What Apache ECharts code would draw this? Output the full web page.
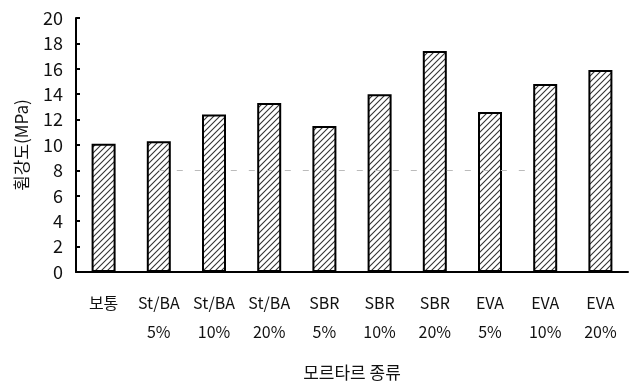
<!DOCTYPE html>
<html><head><meta charset="utf-8">
<script src="https://cdn.jsdelivr.net/npm/echarts@6/dist/echarts.min.js"></script>
<style>html,body{margin:0;padding:0;background:#fff}#c{width:637px;height:387px}</style>
</head><body><div id="c"></div>
<script>
const categories = ['보통\n ', 'St/BA\n5%', 'St/BA\n10%', 'St/BA\n20%', 'SBR\n5%', 'SBR\n10%', 'SBR\n20%', 'EVA\n5%', 'EVA\n10%', 'EVA\n20%'];
const strength = [10.1, 10.3, 12.4, 13.3, 11.5, 14.0, 17.4, 12.6, 14.8, 15.9];
const yTicks = {min: 0, max: 20, interval: 2};

const pc = document.createElement('canvas');
pc.width = 6; pc.height = 6;
const g = pc.getContext('2d');
g.fillStyle = '#fff'; g.fillRect(0, 0, 6, 6);
g.strokeStyle = '#333'; g.lineWidth = 1.1;
g.beginPath();
g.moveTo(-1, 7); g.lineTo(7, -1);
g.moveTo(-4, 4); g.lineTo(4, -4);
g.moveTo(2, 10); g.lineTo(10, 2);
g.stroke();

const font = '"Noto Sans CJK KR", "Noto Sans", sans-serif';
const chart = echarts.init(document.getElementById('c'));
chart.setOption({
  animation: false,
  grid: {left: 76, right: 9, top: 18, bottom: 115},
  xAxis: {
    type: 'category', data: categories,
    name: '모르타르 종류', nameLocation: 'middle', nameGap: 92,
    nameTextStyle: {fontFamily: font, fontSize: 17, color: '#111'},
    axisLine: {lineStyle: {color: '#000', width: 2}},
    axisTick: {inside: true, length: 6, lineStyle: {color: '#000', width: 2}},
    axisLabel: {fontFamily: font, fontSize: 16, color: '#111', margin: 16, lineHeight: 29}
  },
  yAxis: {
    type: 'value', min: yTicks.min, max: yTicks.max, interval: yTicks.interval,
    name: '휨강도(MPa)', nameLocation: 'middle', nameGap: 46, nameRotate: 90,
    nameTextStyle: {fontFamily: font, fontSize: 17, color: '#111'},
    axisLine: {show: true, lineStyle: {color: '#000', width: 2}},
    axisTick: {show: true, inside: true, length: 4, lineStyle: {color: '#000', width: 2}},
    axisLabel: {fontFamily: font, fontSize: 18, color: '#111', margin: 13},
    splitLine: {show: false}
  },
  series: [{
    type: 'bar', data: strength, barWidth: 24,
    itemStyle: {color: {image: pc, repeat: 'repeat'}, borderColor: '#000', borderWidth: 2},
    markLine: {
      silent: true, symbol: 'none', label: {show: false},
      lineStyle: {color: '#bbb', type: [6, 12], width: 1},
      data: [[{coord: [1, 8]}, {coord: [8, 8]}]]
    }
  }]
});
</script></body></html>
